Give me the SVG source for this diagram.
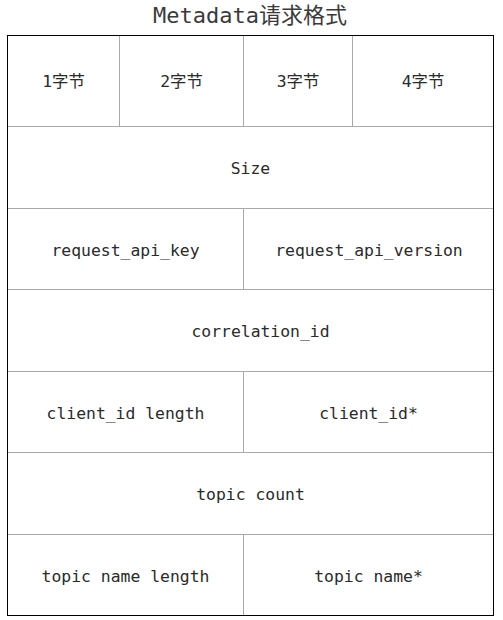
<svg xmlns="http://www.w3.org/2000/svg" width="503" height="620" viewBox="0 0 503 620">
<style>
.t{font-family:"DejaVu Sans Mono","Liberation Mono","Noto Sans CJK SC",monospace;font-size:16.4px;fill:#2a2a2a;text-anchor:middle;dominant-baseline:central}
.title{font-family:"DejaVu Sans Mono","Liberation Mono","Noto Sans CJK SC",monospace;font-size:22px;fill:#3a3a3a;text-anchor:middle;dominant-baseline:central}
.c{fill:#fff;stroke:#aaa;stroke-width:1}
</style>
<rect x="0" y="0" width="503" height="620" fill="#fff"/>
<text class="title" x="250" y="15">Metadata请求格式</text>
<g id="cells">
<g id="b1"><rect class="c" x="7.5" y="35.5" width="112" height="91"/><text class="t" x="63.5" y="81">1字节</text></g>
<g id="b2"><rect class="c" x="119.5" y="35.5" width="124" height="91"/><text class="t" x="181.5" y="81">2字节</text></g>
<g id="b3"><rect class="c" x="243.5" y="35.5" width="109" height="91"/><text class="t" x="298" y="81">3字节</text></g>
<g id="b4"><rect class="c" x="352.5" y="35.5" width="141" height="91"/><text class="t" x="423" y="81">4字节</text></g>
<g id="size"><rect class="c" x="7.5" y="126.5" width="486" height="82"/><text class="t" x="250.5" y="168">Size</text></g>
<g id="apikey"><rect class="c" x="7.5" y="208.5" width="236" height="81"/><text class="t" x="125.5" y="250">request_api_key</text></g>
<g id="apiver"><rect class="c" x="243.5" y="208.5" width="250" height="81"/><text class="t" x="369" y="250">request_api_version</text></g>
<g id="corr"><rect class="c" x="7.5" y="289.5" width="486" height="82"/><text class="t" x="260.5" y="331">correlation_id</text></g>
<g id="cidlen"><rect class="c" x="7.5" y="371.5" width="236" height="81"/><text class="t" x="125.5" y="413">client_id length</text></g>
<g id="cid"><rect class="c" x="243.5" y="371.5" width="250" height="81"/><text class="t" x="368.5" y="413">client_id*</text></g>
<g id="tcount"><rect class="c" x="7.5" y="452.5" width="486" height="82"/><text class="t" x="250.5" y="494">topic count</text></g>
<g id="tnlen"><rect class="c" x="7.5" y="534.5" width="236" height="81"/><text class="t" x="125.5" y="576">topic name length</text></g>
<g id="tname"><rect class="c" x="243.5" y="534.5" width="250" height="81"/><text class="t" x="368.5" y="576">topic name*</text></g>
</g>
<g id="connectors"></g>
<rect x="7.5" y="35.5" width="486" height="580" fill="none" stroke="#000" stroke-width="1"/>
</svg>
